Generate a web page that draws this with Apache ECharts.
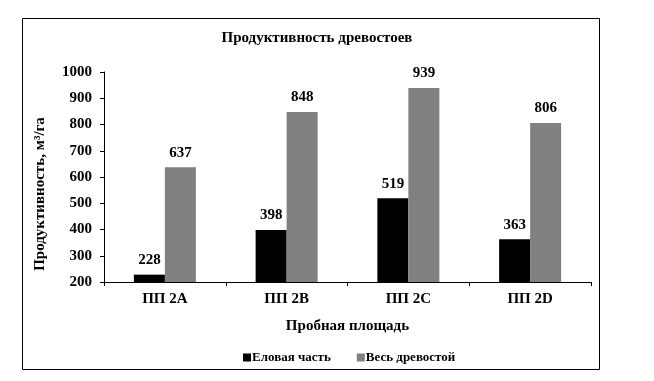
<!DOCTYPE html>
<html>
<head>
<meta charset="utf-8">
<script src="https://cdn.jsdelivr.net/npm/echarts@6/dist/echarts.min.js"></script>
<style>html,body{margin:0;padding:0;background:#fff}#c{width:654px;height:381px}</style>
</head>
<body>
<div id="c"></div>
<script>
const categories = ['ПП 2A', 'ПП 2B', 'ПП 2C', 'ПП 2D'];
const spruceValues = [228, 398, 519, 363];
const totalValues = [637, 848, 939, 806];
const seriesNames = ['Еловая часть', 'Весь древостой'];
const titleText = 'Продуктивность древостоев';
const yAxisTitle = 'Продуктивность, м³/га';
const xAxisTitle = 'Пробная площадь';

const FONT = '"Liberation Serif", "Times New Roman", serif';
const chart = echarts.init(document.getElementById('c'), null, {renderer: 'canvas'});
const labelStyle = {show: true, position: 'top', distance: 7, color: '#000', fontFamily: FONT, fontWeight: 'bold', fontSize: 15};
chart.setOption({
  animation: false,
  backgroundColor: '#fff',
  title: {
    text: titleText, left: 312, top: 26, textAlign: 'center',
    textStyle: {fontFamily: FONT, fontWeight: 'bold', fontSize: 15, color: '#000'}
  },
  legend: {
    left: 238, top: 346, itemWidth: 8, itemHeight: 8, itemGap: 26,
    icon: 'rect',
    textStyle: {fontFamily: FONT, fontWeight: 'bold', fontSize: 13, color: '#000', padding: [0,0,0,-4]},
    data: seriesNames
  },
  grid: {left: 104, right: 63, top: 72, bottom: 99},
  xAxis: {
    type: 'category', data: categories,
    name: xAxisTitle, nameLocation: 'middle', nameGap: 37,
    nameTextStyle: {fontFamily: FONT, fontWeight: 'bold', fontSize: 15, color: '#000'},
    axisLine: {lineStyle: {color: '#000', width: 1}},
    axisTick: {show: true, length: 4, lineStyle: {color: '#000'}},
    axisLabel: {margin: 10, fontFamily: FONT, fontWeight: 'bold', fontSize: 15, color: '#000'}
  },
  yAxis: {
    type: 'value', min: 200, max: 1000, interval: 100,
    axisLine: {show: true, lineStyle: {color: '#000', width: 1}},
    axisTick: {show: true, length: 4, lineStyle: {color: '#000'}},
    splitLine: {show: false},
    axisLabel: {margin: 12, fontFamily: FONT, fontWeight: 'bold', fontSize: 15, color: '#000', formatter: v => String(v)}
  },
  graphic: [
    {type: 'rect', shape: {x: 22.5, y: 18.5, width: 577, height: 351}, style: {fill: 'none', stroke: '#000', lineWidth: 1}, silent: true, z: -1},
    {type: 'text', x: 40, y: 194, rotation: Math.PI / 2,
     style: {text: yAxisTitle, fontFamily: FONT, fontWeight: 'bold', fontSize: 15, fill: '#000', align: 'center', verticalAlign: 'middle'}}
  ],
  series: [
    {name: seriesNames[0], type: 'bar', data: spruceValues, barWidth: 31, barGap: '0%', itemStyle: {color: '#000'}, label: labelStyle},
    {name: seriesNames[1], type: 'bar', data: totalValues, barWidth: 31, barGap: '0%', itemStyle: {color: '#808080'}, label: labelStyle}
  ]
});
</script>
</body>
</html>
